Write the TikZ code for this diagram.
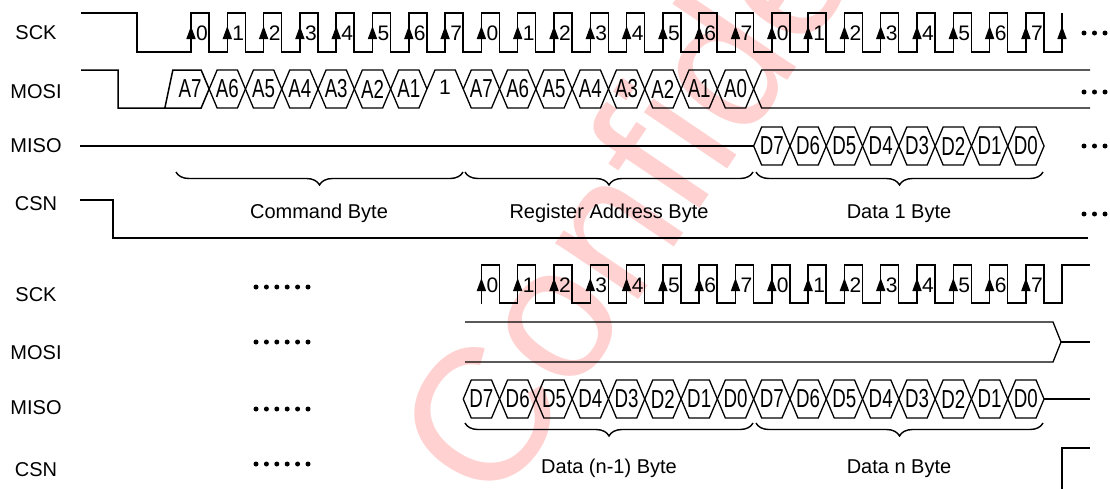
\documentclass[tikz,border=0pt]{standalone}
\usepackage{fontspec}
\setmainfont{Liberation Sans}
\newfontfamily\narrowfont[FakeStretch=0.72]{Liberation Sans}
\usetikzlibrary{arrows.meta,decorations.pathreplacing}

% one data bit of a bus: left vertex x, middle y, text, name
\newcommand{\busbit}[4]{%
  \draw[hex] (#1,#2) -- ++(8,-19) -- ++(20.3,0) -- ++(8,19) -- ++(-8,19) -- ++(-20.3,0) -- cycle;
  \node[bitlbl] (#4) at ({#1+18.15},#2) {#3};}

\begin{document}
\begin{tikzpicture}[x=1pt,y=-1pt,
    every node/.style={inner sep=0pt,font=\fontsize{20}{24}\selectfont},
    wave/.style={line width=1.5pt,line join=miter},
    hex/.style={line width=1.3pt},
    rise/.style={line width=1.5pt,-{Triangle[length=13pt,width=9pt]}},
    bitlbl/.style={font=\narrowfont\fontsize{26}{28}\selectfont},
    clk/.style={font=\fontsize{21}{24}\selectfont},
    brc/.style={decorate,decoration={brace,mirror,amplitude=13pt},line width=1.4pt},
    wmark/.style={text=red!18,font=\fontsize{190}{200}\selectfont}]

  \useasboundingbox (0,0) rectangle (1110,488);

  % watermark
  \begin{scope}
    \clip (0,0) rectangle (1110,488);
    \node[wmark,rotate=56,anchor=base west] (wm) at (496,512) {Confidential};
  \end{scope}

  % signal names
  \node (sck1) at (36,33) {SCK};
  \node (mosi1) at (36,92) {MOSI};
  \node (miso1) at (36,146) {MISO};
  \node (csn1) at (36,204) {CSN};
  \node (sck2) at (36,295) {SCK};
  \node (mosi2) at (36,353) {MOSI};
  \node (miso2) at (36,408) {MISO};
  \node (csn2) at (36,470) {CSN};

  %%%%%%%%%% first part
  \draw[wave] (81,13) -- (137,13) -- (137,52)
    \foreach \k in {0,...,23}{ -- ({191+36.3*\k},52) -- ({191+36.3*\k},13) -- ({209+36.3*\k},13) -- ({209+36.3*\k},52)}
    -- (1062,52) -- (1062,13);
  \foreach \k in {0,...,23}{
    \pgfmathsetmacro\r{191+36.3*\k}
    \pgfmathtruncatemacro\n{mod(\k,8)}
    \draw[rise] (\r,52) -- (\r,26);
    \node[clk] (ckA\k) at (\r+11,33) {\n};
  }
  \draw[rise] (1062,52) -- (1062,26);

  % MOSI: command byte, register address byte
  \draw[wave] (81,70) -- (118,70) -- (118,108) -- (201.15,108) -- (209.15,89) -- (201.15,70) -- (172.85,70) -- (164.85,108);
  \node[bitlbl] (cmdA7) at (190,89) {A7};
  \foreach \j/\t in {1/A6,2/A5,3/A4,4/A3,5/A2,6/A1}
    \busbit{172.85+36.3*\j}{89}{\t}{cmd\t};
  \draw[hex] (427,89) -- (435,70) -- (455.25,70) -- (463.25,89);
  \node[clk] (rw) at (445,87) {1};
  \foreach \j/\t in {8/A7,9/A6,10/A5,11/A4,12/A3,13/A2,14/A1,15/A0}
    \busbit{172.85+36.3*\j}{89}{\t}{reg\t};
  \draw[hex] (1090,70) -- (761.65,70) -- (753.65,89) -- (761.65,108) -- (1090,108);

  % MISO
  \draw[hex] (80,146) -- (753.65,146);
  \foreach \j/\t in {16/D7,17/D6,18/D5,19/D4,20/D3,21/D2,22/D1,23/D0}
    \busbit{172.85+36.3*\j}{146}{\t}{dat\t};

  % bytes
  \draw[brc] (176,172) -- (463,172);
  \draw[brc] (465,172) -- (753,172);
  \draw[brc] (756,172) -- (1043,172);
  \node[anchor=base] (cmd) at (319,218) {Command Byte};
  \node[anchor=base] (reg) at (609,218) {Register Address Byte};
  \node[anchor=base] (dat1) at (899,218) {Data 1 Byte};

  % CSN
  \draw[wave] (80,200) -- (113,200) -- (113,238) -- (1088,238);

  % more to come
  \foreach \y in {33,92,146,214}
    \foreach \x in {1084,1094.5,1105}
      \fill (\x,\y) circle (2.5);

  %%%%%%%%%% last part
  \foreach \y in {287,342,409,464}
    \foreach \i in {0,...,5}
      \fill ({256+10.4*\i},\y) circle (2.5);

  \draw[wave] (481.4,303)
    \foreach \k in {8,...,23}{ -- ({191+36.3*\k},303) -- ({191+36.3*\k},265) -- ({209+36.3*\k},265) -- ({209+36.3*\k},303)}
    -- (1062,303) -- (1062,265) -- (1090,265);
  \foreach \k in {8,...,23}{
    \pgfmathsetmacro\r{191+36.3*\k}
    \pgfmathtruncatemacro\n{mod(\k,8)}
    \draw[rise] (\r,303) -- (\r,278);
    \node[clk] (ckB\k) at (\r+11,285) {\n};
  }

  % MOSI
  \draw[hex] (465,322) -- (1053,322) -- (1061,342) -- (1053,362) -- (465,362);
  \draw[hex] (1061,342) -- (1090,342);

  % MISO
  \foreach \j/\t in {8/D7,9/D6,10/D5,11/D4,12/D3,13/D2,14/D1,15/D0}
    \busbit{172.85+36.3*\j}{399}{\t}{prev\t};
  \foreach \j/\t in {16/D7,17/D6,18/D5,19/D4,20/D3,21/D2,22/D1,23/D0}
    \busbit{172.85+36.3*\j}{399}{\t}{last\t};
  \draw[hex] (1044.05,399) -- (1090,399);

  \draw[brc] (465,423) -- (753,423);
  \draw[brc] (756,423) -- (1043,423);
  \node[anchor=base] (datp) at (609,473) {Data (n-1) Byte};
  \node[anchor=base] (datn) at (899,473) {Data n Byte};

  % CSN
  \draw[wave] (1062,490) -- (1062,448) -- (1090,448);

\end{tikzpicture}
\end{document}
